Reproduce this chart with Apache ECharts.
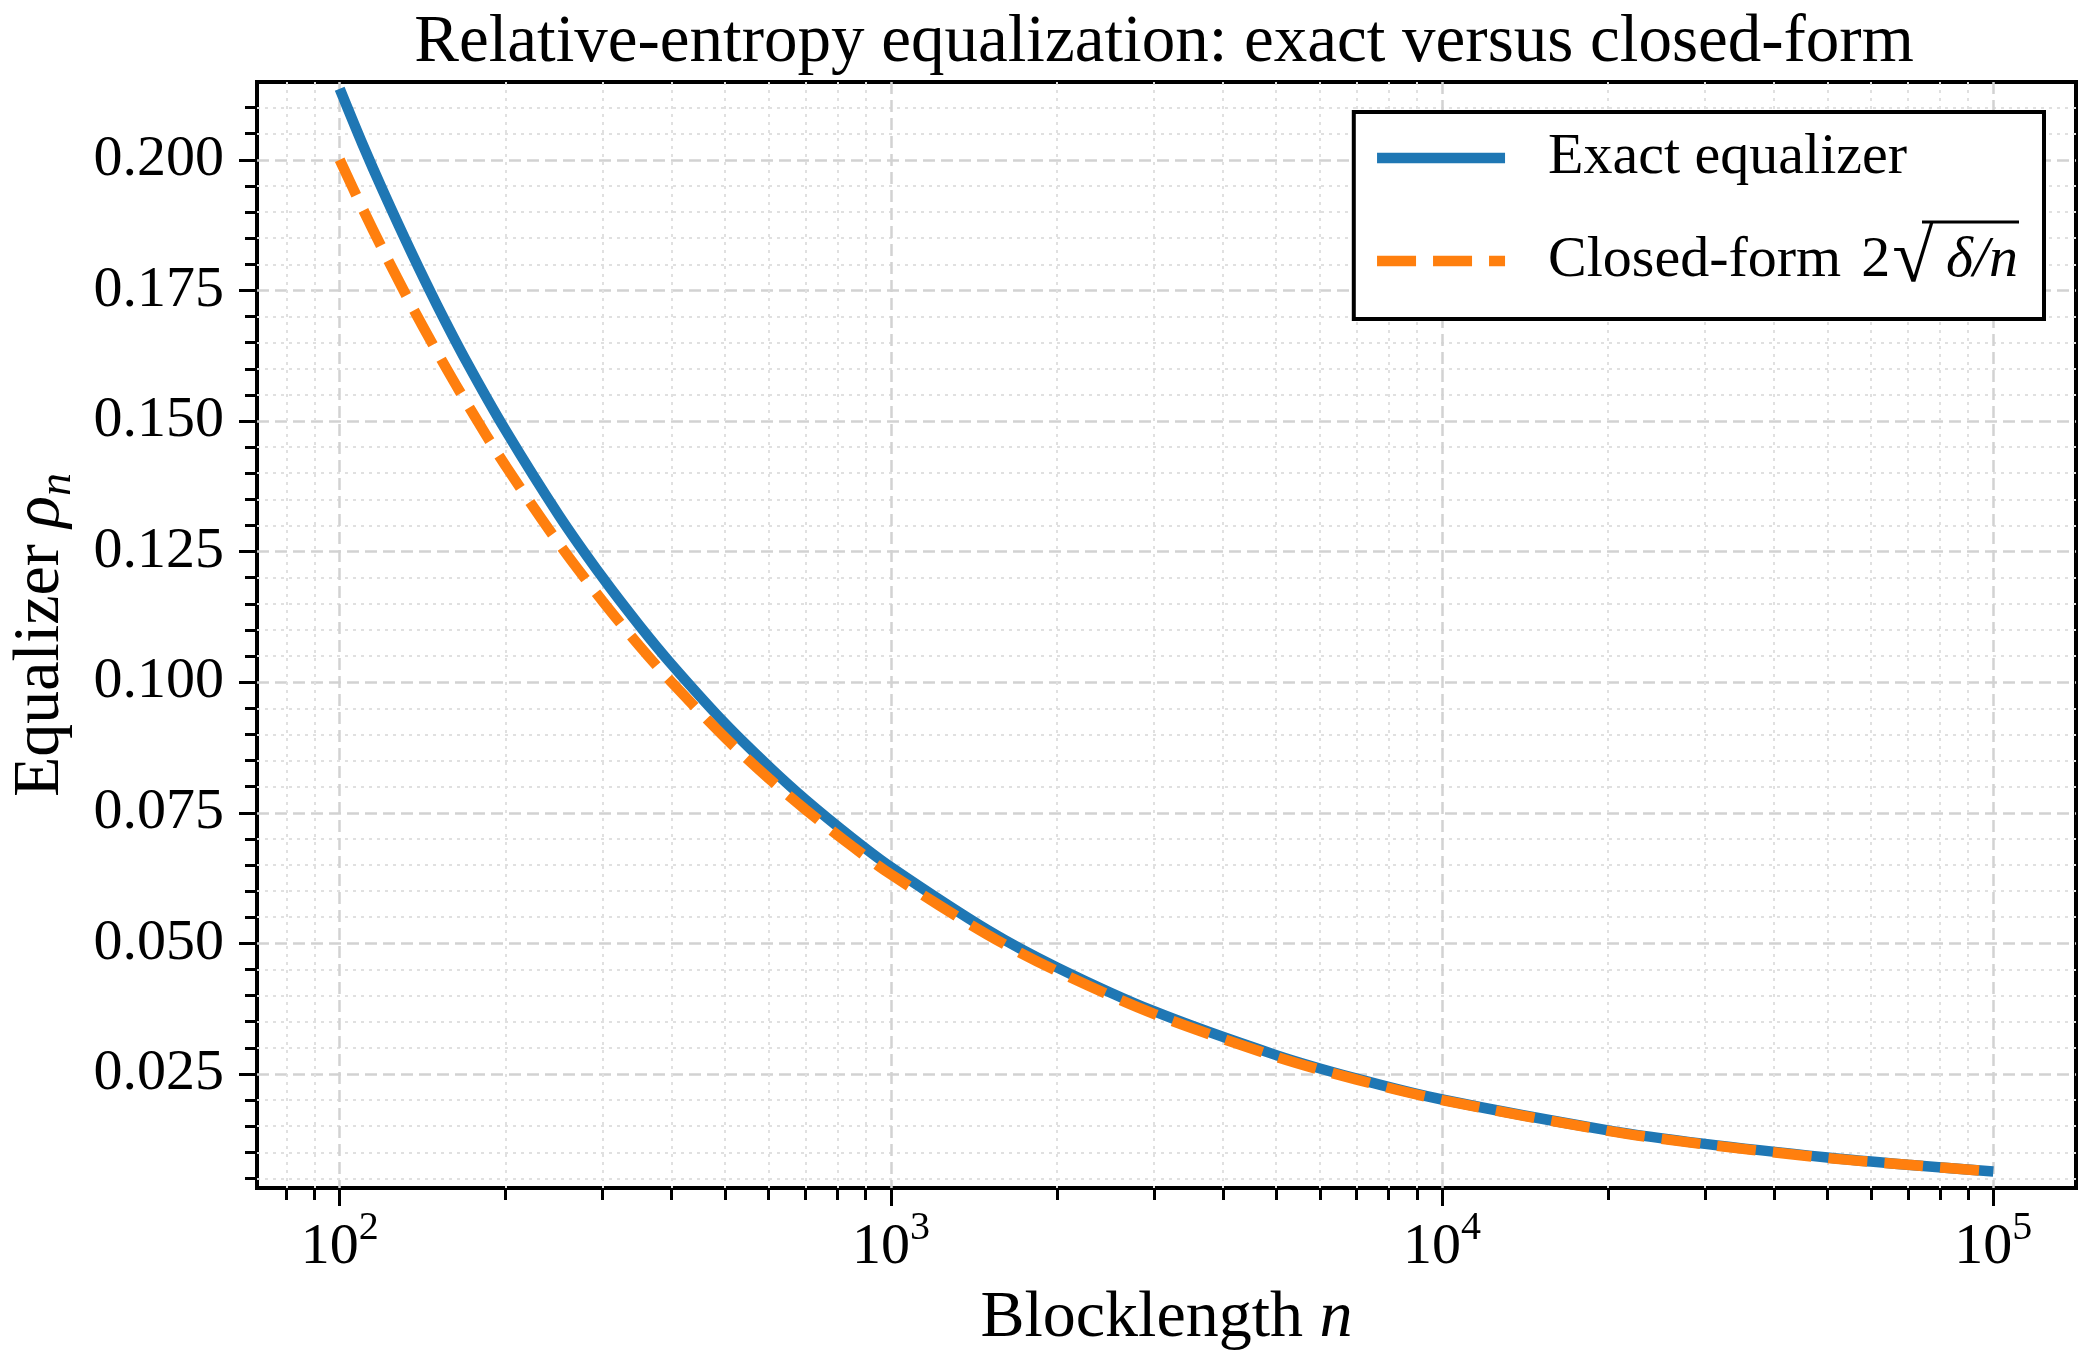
<!DOCTYPE html>
<html>
<head>
<meta charset="utf-8">
<title>Relative-entropy equalization</title>
<script src="https://cdn.jsdelivr.net/npm/echarts@6/dist/echarts.min.js"></script>
<style>
  html, body { margin: 0; padding: 0; background: #fff; }
  #chart { width: 2098px; height: 1360px; }
</style>
</head>
<body>
<div id="chart"></div>
<script>
// blocklength n (x axis, log)
const nValues = [100, 110, 120, 135, 150, 170, 200, 250, 300, 350, 400, 500, 600, 700, 850,
  1000, 1500, 2000, 3000, 5000, 7000, 10000, 20000, 30000, 50000, 70000, 100000];
// exact equalizer rho_n
const exactValues = [0.2136, 0.2030, 0.1939, 0.1822, 0.1723, 0.1613, 0.1482, 0.1319, 0.1200, 0.1108, 0.1034, 0.0921, 0.0839, 0.0775, 0.0702,
  0.0646, 0.0525, 0.0454, 0.0370, 0.0286, 0.0241, 0.0201, 0.0142, 0.0116, 0.0090, 0.0076, 0.0063];
// closed-form 2*sqrt(delta/n)
const closedValues = [0.2000, 0.1907, 0.1826, 0.1721, 0.1633, 0.1534, 0.1414, 0.1265, 0.1155, 0.1069, 0.1000, 0.0894, 0.0816, 0.0756, 0.0686,
  0.0632, 0.0516, 0.0447, 0.0365, 0.0283, 0.0239, 0.0200, 0.0141, 0.0115, 0.0089, 0.0076, 0.0063];

const xMajorTicks = [100, 1000, 10000, 100000];
const xMinorTicks = [80, 90, 200, 300, 400, 500, 600, 700, 800, 900,
  2000, 3000, 4000, 5000, 6000, 7000, 8000, 9000,
  20000, 30000, 40000, 50000, 60000, 70000, 80000, 90000];
const yMajorTicks = [0.025, 0.05, 0.075, 0.1, 0.125, 0.15, 0.175, 0.2];
const yMinorTicks = [0.005, 0.01, 0.015, 0.02, 0.03, 0.035, 0.04, 0.045, 0.055, 0.06, 0.065, 0.07,
  0.08, 0.085, 0.09, 0.095, 0.105, 0.11, 0.115, 0.12, 0.13, 0.135, 0.14, 0.145,
  0.155, 0.16, 0.165, 0.17, 0.18, 0.185, 0.19, 0.195, 0.205, 0.21];

const seriesNames = ['Exact equalizer', 'Closed-form 2√δ/n'];

const FONT = 'Liberation Serif';
const xMin = 70.79, xMax = 141254;   // 10^1.85 .. 10^5.15
const yMin = 0.00316, yMax = 0.2149;

let myChart = echarts.init(document.getElementById('chart'));

const majorGrid = { show: true, lineStyle: { color: '#d2d2d2', width: 2.5, type: [12, 6] } };
const minorGrid = { show: true, lineStyle: { color: '#e0e0e0', width: 2, type: [3, 5] } };
const tickStyle = { color: '#000', width: 3 };

myChart.setOption({
  animation: false,
  backgroundColor: '#fff',
  grid: {
    left: 253, right: 22, top: 82, bottom: 172,
    show: true, borderColor: '#000', borderWidth: 4, backgroundColor: 'transparent'
  },
  legend: {
    orient: 'vertical',
    right: 54, top: 112,
    padding: [16, 26, 20, 18],
    itemWidth: 128, itemHeight: 12, itemGap: 35,
    borderColor: '#000', borderWidth: 4, backgroundColor: '#fff',
    itemStyle: { opacity: 0, borderWidth: 0 },
    lineStyle: { width: 10.5, cap: 'butt' },
    textStyle: {
      fontFamily: FONT, fontSize: 58, color: '#000', lineHeight: 60, padding: [0, 0, 0, 38],
      rich: {
        t: { fontFamily: FONT, fontSize: 58, lineHeight: 60, color: '#000' },
        d: { fontFamily: FONT, fontSize: 58, lineHeight: 60, color: '#000', padding: [0, 0, 0, 20] },
        r: { fontFamily: FONT, fontSize: 76, lineHeight: 60, color: '#000', padding: [0, 6, 0, 2] },
        m: { fontFamily: FONT, fontSize: 58, lineHeight: 60, fontStyle: 'italic', color: '#000', padding: [0, 0, 0, 6] }
      }
    },
    formatter: function (name) {
      if (name === seriesNames[1]) return '{t|Closed-form}{d|2}{r|√}{m|δ/n}';
      return '{t|' + name + '}';
    },
    data: seriesNames
  },
  graphic: [
    // title, centred over the plot area
    {
      type: 'text', x: 1164, y: 10, z: 100,
      style: {
        text: 'Relative-entropy equalization: exact versus closed-form',
        fontFamily: FONT, fontSize: 67, fill: '#000', align: 'center', verticalAlign: 'top'
      }
    },
    // bar of the square root in the legend
    { type: 'line', z: 100, shape: { x1: 1922, y1: 222, x2: 2019, y2: 222 }, style: { stroke: '#000', lineWidth: 3 } }
  ],
  xAxis: [
    {
      type: 'log', logBase: 10, min: xMin, max: xMax, position: 'bottom',
      axisLine: { show: false },
      axisTick: { show: true, length: 18, lineStyle: tickStyle, customValues: xMajorTicks },
      axisLabel: {
        customValues: xMajorTicks, margin: 20, color: '#000',
        formatter: function (v) { return '{b|10}{s|' + Math.round(Math.log10(v)) + '}'; },
        rich: {
          b: { fontFamily: FONT, fontSize: 58, lineHeight: 80, color: '#000' },
          s: { fontFamily: FONT, fontSize: 40, lineHeight: 40, verticalAlign: 'top', color: '#000' }
        }
      },
      splitLine: majorGrid,
      name: 'Blocklength {i|n}', nameLocation: 'middle', nameGap: 96,
      nameTextStyle: {
        fontFamily: FONT, fontSize: 66, color: '#000', lineHeight: 70,
        rich: { i: { fontFamily: FONT, fontSize: 66, fontStyle: 'italic', color: '#000' } }
      }
    },
    {
      type: 'log', logBase: 10, min: xMin, max: xMax, position: 'bottom',
      axisLine: { show: false },
      axisTick: { show: true, length: 12, lineStyle: tickStyle, customValues: xMinorTicks },
      axisLabel: { show: false, customValues: xMinorTicks },
      splitLine: minorGrid
    }
  ],
  yAxis: [
    {
      type: 'value', min: yMin, max: yMax, position: 'left',
      axisLine: { show: false },
      axisTick: { show: true, length: 18, lineStyle: tickStyle, customValues: yMajorTicks },
      axisLabel: {
        customValues: yMajorTicks, margin: 33, color: '#000',
        fontFamily: FONT, fontSize: 58,
        formatter: function (v) { return v.toFixed(3); }
      },
      splitLine: majorGrid,
      name: '{t|Equalizer }{i|ρ}{s|n}', nameLocation: 'middle', nameRotate: 90, nameGap: 176,
      nameTextStyle: {
        fontFamily: FONT, fontSize: 66, color: '#000',
        rich: {
          t: { fontFamily: FONT, fontSize: 66, lineHeight: 80, color: '#000' },
          i: { fontFamily: FONT, fontSize: 66, lineHeight: 80, fontStyle: 'italic', color: '#000' },
          s: { fontFamily: FONT, fontSize: 46, lineHeight: 46, verticalAlign: 'bottom', fontStyle: 'italic', color: '#000' }
        }
      }
    },
    {
      type: 'value', min: yMin, max: yMax, position: 'left',
      axisLine: { show: false },
      axisTick: { show: true, length: 12, lineStyle: tickStyle, customValues: yMinorTicks },
      axisLabel: { show: false, customValues: yMinorTicks },
      splitLine: minorGrid
    }
  ],
  series: [
    {
      name: seriesNames[0], type: 'line', xAxisIndex: 0, yAxisIndex: 0,
      showSymbol: false, symbol: 'none', smooth: 0.3,
      lineStyle: { color: '#1f77b4', width: 10.5, cap: 'butt' },
      itemStyle: { color: '#1f77b4' },
      data: nValues.map((n, i) => [n, exactValues[i]])
    },
    {
      name: seriesNames[1], type: 'line', xAxisIndex: 0, yAxisIndex: 0,
      showSymbol: false, symbol: 'none', smooth: 0.3,
      lineStyle: { color: '#ff7f0e', width: 10.5, type: [39, 17], cap: 'butt' },
      itemStyle: { color: '#ff7f0e' },
      data: nValues.map((n, i) => [n, closedValues[i]])
    }
  ]
});
</script>
</body>
</html>
